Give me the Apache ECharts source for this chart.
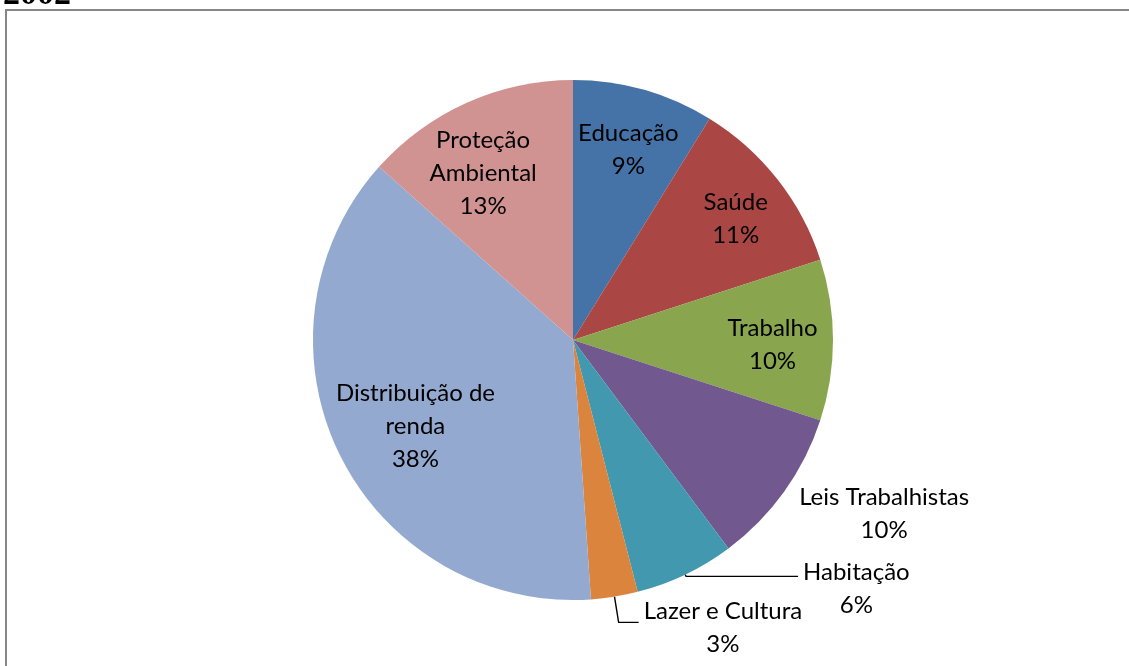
<!DOCTYPE html>
<html>
<head>
<meta charset="utf-8">
<script src="https://cdn.jsdelivr.net/npm/echarts@6/dist/echarts.min.js"></script>
<style>html,body{margin:0;padding:0;background:#fff}#c{width:1129px;height:666px}</style>
</head>
<body>
<div id="c"></div>
<script>
const titleText = '2002';
const categories = ['Educação', 'Saúde', 'Trabalho', 'Leis Trabalhistas', 'Habitação', 'Lazer e Cultura', 'Distribuição de\nrenda', 'Proteção\nAmbiental'];
const values = [8.8, 11.2, 10.0, 9.8, 6.2, 2.9, 37.7, 13.4];
const colors = ['#4572A7', '#AA4643', '#89A54E', '#71588F', '#4198AF', '#DB843D', '#93A9CF', '#D19392'];
const outsideIdx = [3, 4, 5];

const FONT = 'Lato';
const FS = 24;
const LH = 33;

const pieData = categories.map((c, i) => ({ name: c, value: values[i], itemStyle: { color: colors[i] } }));

// label fine-positioning (styling only)
const outsideLabelStyle = {
  3: { show: false, length: 6, length2: 5, padTop: 38 },
  4: { show: true, length: 2, length2: 112, padTop: 24 },
  5: { show: true, length: 26, length2: 20, padTop: 10 }
};
const insideLabelShift = {
  0: [2, -2], 1: [9, 0], 2: [4, 5], 6: [18, 0], 7: [-10, 12]
};

const chart = echarts.init(document.getElementById('c'), null, { renderer: 'canvas' });
chart.setOption({
  animation: false,
  title: {
    text: titleText, left: -2, top: -27,
    textStyle: { fontFamily: 'Liberation Serif', fontWeight: 'bold', fontSize: 34, color: '#000' }
  },
  graphic: [{
    type: 'rect', shape: { x: 6, y: 10, width: 1200, height: 700 },
    style: { fill: 'none', stroke: '#878787', lineWidth: 2 }, silent: true
  }],
  series: [
    {
      type: 'pie', center: [573, 340], radius: [0, 260], startAngle: 90, clockwise: true,
      avoidLabelOverlap: false, silent: true,
      labelLayout: { hideOverlap: false },
      data: pieData.map((d, i) => {
        const o = Object.assign({}, d);
        if (outsideIdx.includes(i)) {
          const s = outsideLabelStyle[i];
          o.label = {
            show: true, position: 'outside', alignTo: 'none',
            padding: [s.padTop, 0, 0, 0],
            formatter: p => '{n|' + p.name + '}\n{n|' + Math.round(p.percent) + '%}',
            rich: { n: { align: 'center', fontFamily: FONT, fontSize: FS, lineHeight: LH, color: '#000' } }
          };
          o.labelLine = { show: s.show, length: s.length, length2: s.length2, smooth: false, lineStyle: { color: '#000', width: 1.4 } };
        } else {
          o.label = { show: false };
          o.labelLine = { show: false };
        }
        return o;
      })
    },
    {
      type: 'pie', center: [573, 340], radius: [125, 260], startAngle: 90, clockwise: true,
      avoidLabelOverlap: false, silent: true,
      labelLayout: p => {
        const s = insideLabelShift[p.dataIndex];
        return s ? { dx: s[0], dy: s[1], hideOverlap: false } : { hideOverlap: false };
      },
      data: pieData.map((d, i) => ({
        name: d.name, value: d.value,
        itemStyle: { color: 'rgba(0,0,0,0)' },
        label: outsideIdx.includes(i) ? { show: false } : {
          show: true, position: 'inside',
          formatter: p => '{n|' + p.name.split('\n').join('}\n{n|') + '}\n{n|' + Math.round(p.percent) + '%}',
          rich: { n: { align: 'center', fontFamily: FONT, fontSize: FS, lineHeight: LH, color: '#000' } }
        },
        labelLine: { show: false }
      }))
    }
  ]
});
</script>
</body>
</html>
